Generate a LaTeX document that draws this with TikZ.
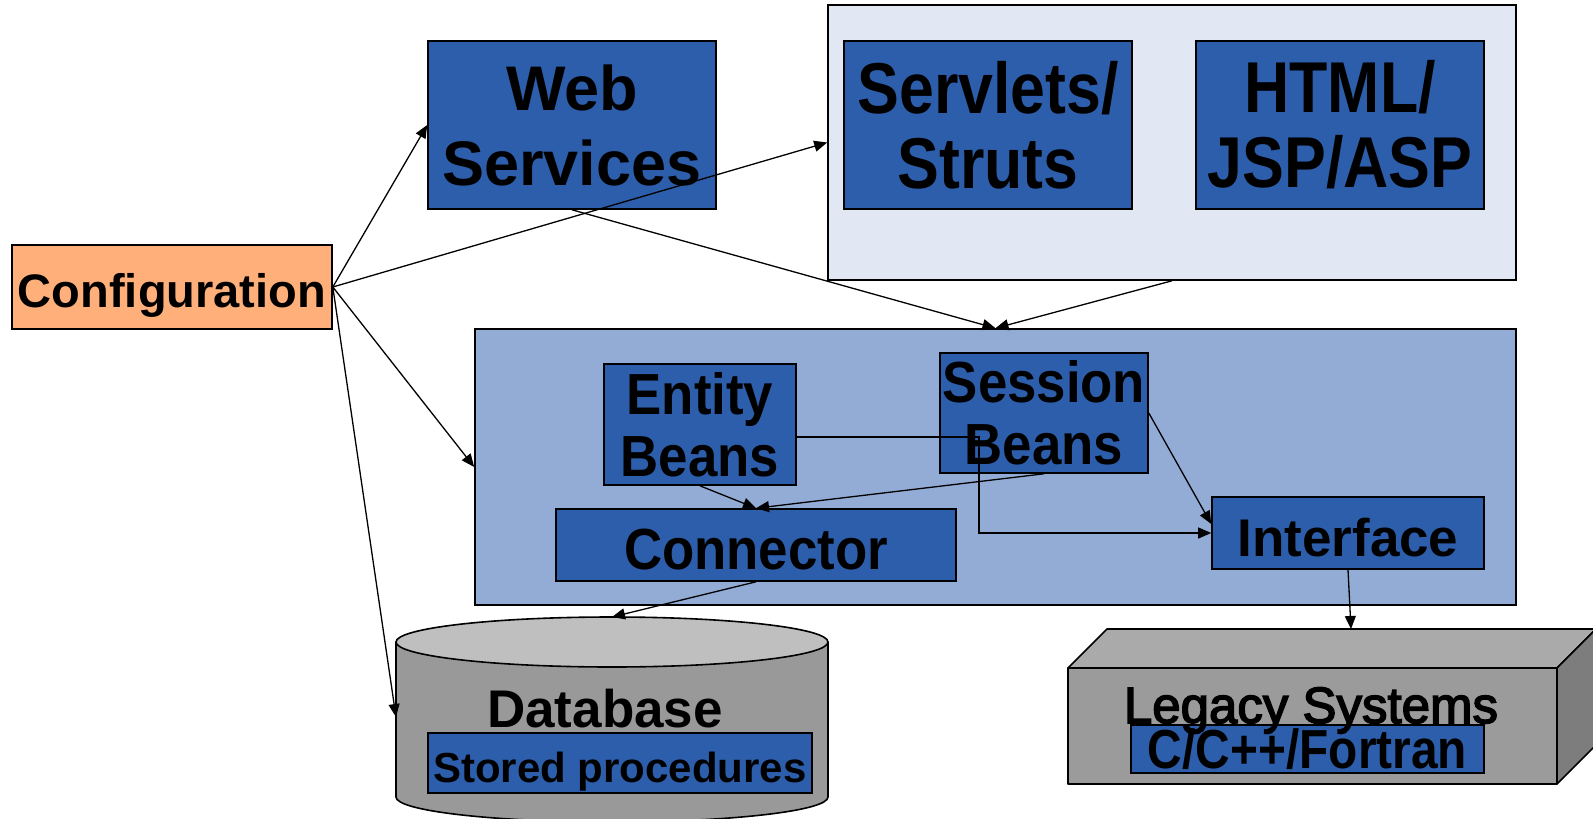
\documentclass[tikz,border=0pt]{standalone}
\usepackage{fontspec}
\setmainfont{Liberation Sans}
\newfontfamily\narrowA{Liberation Sans}[FakeStretch=0.87]
\newfontfamily\narrowB{Liberation Sans}[FakeStretch=0.91]
\newfontfamily\heavyreg{Liberation Sans}[FakeBold=3]
\usetikzlibrary{arrows.meta}

\definecolor{boxblue}{RGB}{45,94,171}
\definecolor{tierblue}{RGB}{147,172,213}
\definecolor{webtier}{RGB}{225,231,243}
\definecolor{cfgorange}{RGB}{255,176,122}
\definecolor{dbside}{RGB}{153,153,153}
\definecolor{dbtop}{RGB}{191,191,191}
\definecolor{legtop}{RGB}{170,170,170}
\definecolor{legfront}{RGB}{155,155,155}
\definecolor{legside}{RGB}{125,125,125}

\tikzset{
  frame/.style={draw=black, line width=1.6pt, inner sep=0pt, align=center, text=black},
  bluebox/.style={frame, fill=boxblue},
  link/.style={draw=black, line width=1.3pt, -{Triangle[length=13pt,width=11pt]}},
  solid3d/.style={draw=black, line width=1.6pt, line join=round},
  bigfont/.style={font=\bfseries\fontsize{63}{75}\selectfont},
  tallfont/.style={font=\narrowA\bfseries\fontsize{72}{75}\selectfont},
  beanfont/.style={font=\narrowB\bfseries\fontsize{58}{62}\selectfont},
}

\begin{document}
\begin{tikzpicture}[x=1pt, y=-1pt]
\useasboundingbox (0,0) rectangle (1593,819);

% tier containers
\node[frame, fill=webtier, minimum width=688pt, minimum height=275pt] (webtier) at (1172,142.5) {};
\node[frame, fill=tierblue, minimum width=1041pt, minimum height=276pt] (ejb) at (995.5,467) {};

% configuration
\node[frame, fill=cfgorange, minimum width=320pt, minimum height=84pt,
      font=\bfseries\fontsize{47}{56}\selectfont, text height=40pt, text depth=0pt] (cfg) at (172,287) {Configuration};

% presentation layer
\node[bluebox, bigfont, minimum width=288pt, minimum height=168pt] (ws) at (572,125) {Web\\Services};
\node[bluebox, tallfont, minimum width=288pt, minimum height=168pt] (servlets) at (988,125) {Servlets/\\Struts};
\node[bluebox, tallfont, minimum width=288pt, minimum height=168pt] (html) at (1340,125) {HTML/\\JSP/ASP};

% business layer
\node[bluebox, beanfont, minimum width=192pt, minimum height=121pt] (entity) at (700,424.5) {Entity\\Beans};
\node[bluebox, beanfont, minimum width=208pt, minimum height=120pt] (session) at (1044,413) {Session\\Beans};
\node[bluebox, beanfont, minimum width=400pt, minimum height=72pt, text height=48pt, text depth=0pt] (connector) at (756,545) {Connector};
\node[bluebox, font=\bfseries\fontsize{53}{60}\selectfont, minimum width=272pt, minimum height=72pt,
      text height=46pt, text depth=0pt] (interface) at (1348,533) {Interface};

% database cylinder
\fill[dbside] (396,642) -- (396,797)
   arc[start angle=180, end angle=360, x radius=216pt, y radius=25pt] -- (828,642) -- cycle;
\draw[line width=1.6pt] (396,642) -- (396,797)
   arc[start angle=180, end angle=360, x radius=216pt, y radius=25pt] -- (828,642);
\filldraw[fill=dbtop, line width=1.6pt] (612,642) ellipse [x radius=216pt, y radius=25pt];
\coordinate (dbtopc) at (612,617);
\coordinate (dbleft) at (396,717);
\node[anchor=base, font=\bfseries\fontsize{53}{60}\selectfont, inner sep=0pt] (dblabel) at (605,727) {Database};
\node[bluebox, font=\bfseries\fontsize{42}{48}\selectfont, minimum width=384pt, minimum height=60pt,
      text height=38pt, text depth=0pt] (stored) at (620,763) {Stored procedures};

% legacy systems block
\filldraw[solid3d, fill=legtop] (1068,668) -- (1107,629) -- (1596,629) -- (1557,668) -- cycle;
\filldraw[solid3d, fill=legside] (1557,668) -- (1596,629) -- (1596,745) -- (1557,784) -- cycle;
\filldraw[solid3d, fill=legfront] (1068,668) rectangle (1557,784);
\coordinate (legtopc) at (1351,629);
\node[bluebox, font=\narrowA\bfseries\fontsize{55}{60}\selectfont, minimum width=353pt, minimum height=48pt] (langs) at (1307.5,749) {C/C++/Fortran};
\node[anchor=base, font=\heavyreg\fontsize{51}{58}\selectfont, inner sep=0pt] (leglabel) at (1311,723) {Legacy Systems};

% connections
\draw[link] (cfg.east) -- (ws.west);
\draw[link] (cfg.east) -- (webtier.west);
\draw[link] (cfg.east) -- (ejb.west);
\draw[link] (cfg.east) -- (dbleft);
\draw[link] (ws.south) -- (ejb.north);
\draw[link] (webtier.south) -- (ejb.north);
\coordinate (bend) at (979,437);
\draw[link] (entity.east |- bend) -- (bend) |- (interface.west);
\draw[link] (session.east) -- ([yshift=9pt]interface.west);
\draw[link] (entity.south) -- (connector.north);
\draw[link] (session.south) -- (connector.north);
\draw[link] (connector.south) -- (dbtopc);
\draw[link] (interface.south) -- (legtopc);
\end{tikzpicture}
\end{document}
